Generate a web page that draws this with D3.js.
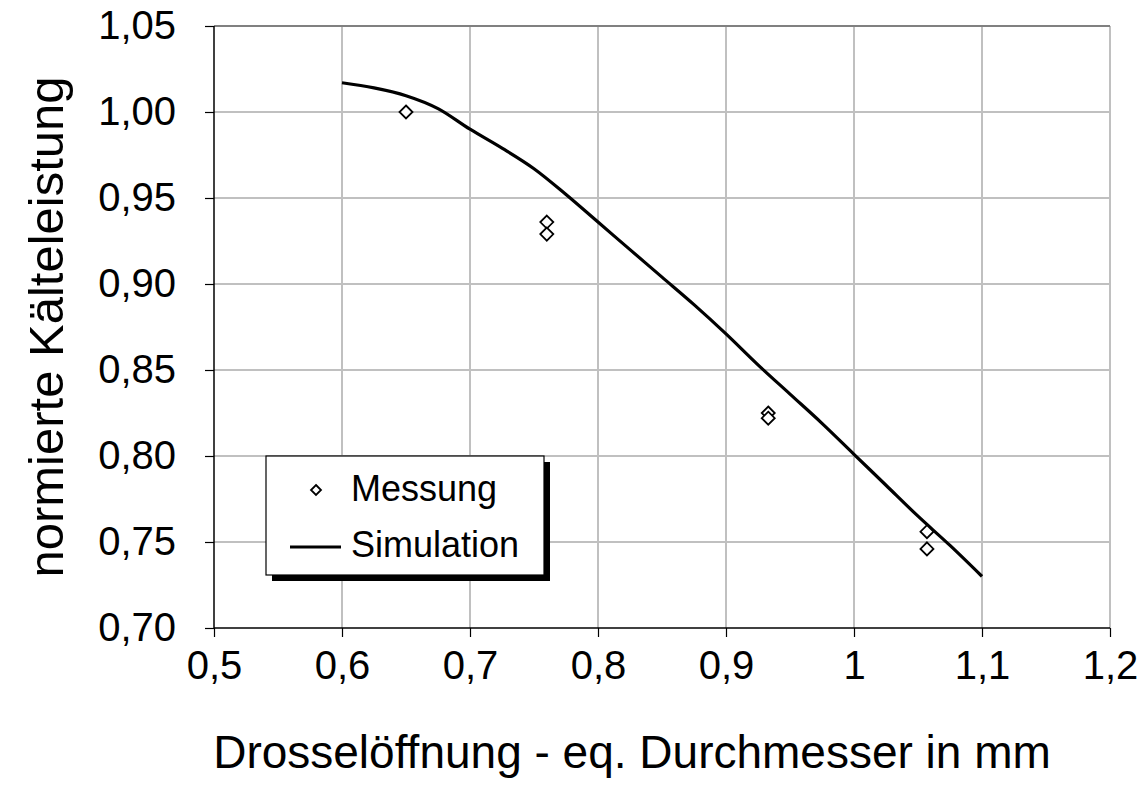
<!DOCTYPE html>
<html>
<head>
<meta charset="utf-8">
<script src="https://cdn.jsdelivr.net/npm/d3@7"></script>
<style>
  body { margin: 0; background: #fff; }
  text { font-family: "Liberation Sans", Arial, sans-serif; fill: #000; }
</style>
</head>
<body>
<div id="chart"></div>
<script>
'use strict'

// Simulation curve
var simX = [0.600, 0.625, 0.650, 0.675, 0.700, 0.725, 0.750, 0.775, 0.800, 0.825, 0.850,
            0.875, 0.900, 0.925, 0.950, 0.975, 1.000, 1.025, 1.050, 1.075, 1.100];
var simY = [1.017, 1.014, 1.0095, 1.002, 0.990, 0.979, 0.967, 0.952, 0.936, 0.920, 0.904,
            0.888, 0.871, 0.853, 0.836, 0.819, 0.801, 0.783, 0.765, 0.748, 0.730];

// measured points
var messX = [0.650, 0.760, 0.760, 0.933, 0.933, 1.057, 1.057];
var messY = [1.000, 0.936, 0.929, 0.825, 0.822, 0.756, 0.746];

var xTicks = [0.5, 0.6, 0.7, 0.8, 0.9, 1.0, 1.1, 1.2];
var yTicks = [0.70, 0.75, 0.80, 0.85, 0.90, 0.95, 1.00, 1.05];
var xTickLabels = ['0,5', '0,6', '0,7', '0,8', '0,9', '1', '1,1', '1,2'];
var yTickLabels = ['0,70', '0,75', '0,80', '0,85', '0,90', '0,95', '1,00', '1,05'];
var legendLabels = ['Messung', 'Simulation'];

const W = 1145, H = 792;
const margin = { top: 26, right: 35, bottom: 164, left: 214 };
const width = W - margin.left - margin.right;
const height = H - margin.top - margin.bottom;

var svg = d3.select('#chart').append('svg')
  .attr('width', W)
  .attr('height', H);

var g = svg.append('g')
  .attr('transform', 'translate(' + margin.left + ',' + margin.top + ')');

var x = d3.scaleLinear().domain([0.5, 1.2]).range([0, width]);
var y = d3.scaleLinear().domain([0.70, 1.05]).range([height, 0]);

// grid
g.append('g').selectAll('line')
  .data(xTicks.slice(1))
  .enter().append('line')
  .attr('x1', d => x(d)).attr('x2', d => x(d))
  .attr('y1', 0).attr('y2', height)
  .style('stroke', '#c0c0c0').style('stroke-width', 2);

g.append('g').selectAll('line')
  .data(yTicks.slice(1))
  .enter().append('line')
  .attr('x1', 0).attr('x2', width)
  .attr('y1', d => y(d)).attr('y2', d => y(d))
  .style('stroke', d => d === 1.05 ? '#808080' : '#c0c0c0')
  .style('stroke-width', 2);

// axes
var xAxis = d3.axisBottom(x)
  .tickValues(xTicks)
  .tickSize(9)
  .tickPadding(14)
  .tickFormat((d, i) => xTickLabels[i]);
var xG = g.append('g')
  .attr('transform', 'translate(0,' + height + ')')
  .call(xAxis);

var yAxis = d3.axisLeft(y)
  .tickValues(yTicks)
  .tickSize(9)
  .tickPadding(29)
  .tickFormat((d, i) => yTickLabels[i]);
var yG = g.append('g').call(yAxis);

[xG, yG].forEach(a => {
  a.select('.domain').style('stroke', '#000').style('stroke-width', 1.5);
  a.selectAll('.tick line').style('stroke', '#000').style('stroke-width', 1.2);
  a.selectAll('.tick text')
    .style('font-family', '"Liberation Sans", Arial, sans-serif')
    .style('font-size', '40px').style('fill', '#000');
});
xG.select('.domain').attr('d', 'M0,0H' + width);
yG.select('.domain').attr('d', 'M0,' + height + 'V0');

// simulation line
var simData = simX.map((v, i) => [v, simY[i]]);
var line = d3.line()
  .x(d => x(d[0])).y(d => y(d[1]))
  .curve(d3.curveMonotoneX);
g.append('path')
  .datum(simData)
  .attr('d', line)
  .style('fill', 'none')
  .style('stroke', '#000')
  .style('stroke-width', 3.2)
  .style('stroke-linejoin', 'round');

// diamonds
var diamond = function(s) {
  return 'M0,' + (-s) + 'L' + s + ',0L0,' + s + 'L' + (-s) + ',0Z';
};
g.append('g').selectAll('path')
  .data(messX.map((v, i) => [v, messY[i]]))
  .enter().append('path')
  .attr('d', diamond(6.5))
  .attr('transform', d => 'translate(' + x(d[0]) + ',' + y(d[1]) + ')')
  .style('fill', '#fff')
  .style('stroke', '#000')
  .style('stroke-width', 1.8);

// axis titles
svg.append('text')
  .attr('transform', 'translate(63,' + (margin.top + height / 2) + ') rotate(-90)')
  .style('text-anchor', 'middle')
  .style('font-size', '49px')
  .text('normierte Kälteleistung');

svg.append('text')
  .attr('x', 632)
  .attr('y', 768)
  .style('text-anchor', 'middle')
  .style('font-size', '46px')
  .text('Drosselöffnung - eq. Durchmesser in mm');

// legend
var lg = svg.append('g').attr('transform', 'translate(266,456)');
lg.append('rect')
  .attr('x', 6).attr('y', 6).attr('width', 278).attr('height', 119)
  .style('fill', '#000');
lg.append('rect')
  .attr('x', 0).attr('y', 0).attr('width', 278).attr('height', 119)
  .style('fill', '#fff').style('stroke', '#000').style('stroke-width', 1.2);

lg.append('path')
  .attr('d', diamond(5))
  .attr('transform', 'translate(50,34)')
  .style('fill', '#fff').style('stroke', '#000').style('stroke-width', 1.8);
lg.append('line')
  .attr('x1', 24).attr('x2', 75).attr('y1', 91).attr('y2', 91)
  .style('stroke', '#000').style('stroke-width', 3.2);

lg.selectAll('text.leg')
  .data(legendLabels)
  .enter().append('text')
  .attr('class', 'leg')
  .attr('x', 85)
  .attr('y', (d, i) => 45 + i * 56)
  .style('font-size', '36px')
  .text(d => d);
</script>
</body>
</html>
